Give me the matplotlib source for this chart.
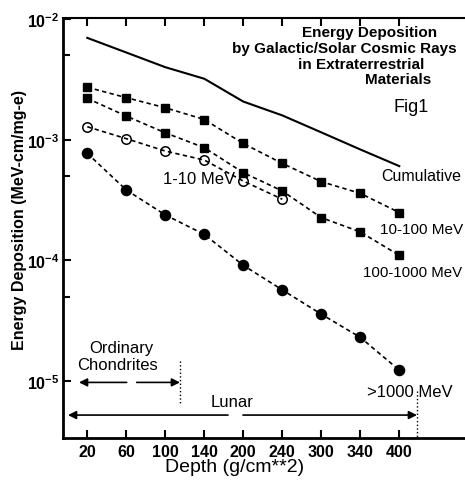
import numpy as np
import matplotlib
matplotlib.use('Agg')
import matplotlib.pyplot as plt
from matplotlib.ticker import FixedLocator, FixedFormatter, NullFormatter

plt.rcParams['font.family'] = ['Liberation Sans', 'DejaVu Sans']
plt.rcParams['mathtext.fontset'] = 'custom'
plt.rcParams['mathtext.rm'] = 'Liberation Sans'
plt.rcParams['mathtext.bf'] = 'Liberation Sans:bold'

# depth (g/cm**2), plotted as evenly spaced categories
depth_labels = ['20', '60', '100', '140', '200', '240', '300', '340', '400']

# energy deposition (MeV-cm/mg-e)
cumulative = [6.98e-3, 5.28e-3, 3.99e-3, 3.20e-3, 2.07e-3, 1.59e-3, 1.15e-3, 8.3e-4, 6.04e-4]
mev_10_100 = [2.72e-3, 2.23e-3, 1.84e-3, 1.47e-3, 9.3e-4, 6.36e-4, 4.49e-4, 3.59e-4, 2.49e-4]
mev_100_1000 = [2.20e-3, 1.57e-3, 1.14e-3, 8.59e-4, 5.33e-4, 3.76e-4, 2.26e-4, 1.72e-4, 1.10e-4]
mev_1_10 = [1.28e-3, 1.02e-3, 8.05e-4, 6.78e-4, 4.54e-4, 3.21e-4]
mev_gt_1000 = [7.71e-4, 3.83e-4, 2.38e-4, 1.64e-4, 9.1e-5, 5.69e-5, 3.58e-5, 2.30e-5, 1.23e-5]

W, H = 465, 481

def px(x, y):
    # pixel position -> figure fraction
    return x / W, 1 - y / H

fig = plt.figure(figsize=(W / 100, H / 100), dpi=100)
ax = fig.add_axes([63.3 / W, 1 - 439 / H, (W - 63.3) / W, (439 - 19) / H])

x = np.arange(len(depth_labels))
dash = (2.6, 2.0)

ax.plot(x, cumulative, color='k', lw=1.5)
ax.plot(x, mev_10_100, color='k', lw=1.2, dashes=dash, marker='s', ms=6.3, mfc='k', mec='k')
ax.plot(x, mev_100_1000, color='k', lw=1.2, dashes=dash, marker='s', ms=6.3, mfc='k', mec='k')
ax.plot(x[:len(mev_1_10)], mev_1_10, color='k', lw=1.2, dashes=dash, marker='o', ms=6.8,
        mfc='none', mec='k', mew=1.1)
ax.plot(x, mev_gt_1000, color='k', lw=1.2, dashes=dash, marker='o', ms=7.3, mfc='k', mec='k')

ax.set_yscale('log')
ax.set_ylim(3.37e-6, 1.02e-2)
ax.set_xlim(-0.615, 9.685)

ax.xaxis.set_major_locator(FixedLocator(x))
ax.xaxis.set_major_formatter(FixedFormatter(depth_labels))
ax.xaxis.set_minor_locator(FixedLocator([]))
ax.yaxis.set_major_locator(FixedLocator([1e-5, 1e-4, 1e-3, 1e-2]))
ax.yaxis.set_major_formatter(FixedFormatter([r'$\mathbf{10^{-5}}$', r'$\mathbf{10^{-4}}$',
                                             r'$\mathbf{10^{-3}}$', r'$\mathbf{10^{-2}}$']))
ax.yaxis.set_minor_locator(FixedLocator([5e-5, 5e-4, 5e-3]))
ax.yaxis.set_minor_formatter(NullFormatter())

ax.tick_params(axis='x', which='major', direction='in', top=True, bottom=True,
               length=6, width=1.5, pad=4, labelsize=11.5)
ax.tick_params(axis='y', which='major', direction='in', length=6, width=1.5, pad=3, labelsize=11.5)
ax.tick_params(axis='y', which='minor', direction='in', length=5, width=1.5)
for lab in ax.get_xticklabels():
    lab.set_fontweight('bold')

ax.spines['right'].set_visible(False)
ax.spines['left'].set_linewidth(2)
ax.spines['bottom'].set_linewidth(2)
ax.spines['top'].set_linewidth(1.5)

fig.text(*px(235, 468), 'Depth (g/cm**2)', fontsize=14, ha='center', va='center')
fig.text(*px(20, 220), 'Energy Deposition (MeV-cm/mg-e)', rotation=90, fontsize=11.5,
         fontweight='bold', ha='center', va='center')

# series labels
fig.text(*px(381, 177), 'Cumulative', fontsize=11.5, ha='left', va='center')
fig.text(*px(380, 230), '10-100 MeV', fontsize=11, ha='left', va='center')
fig.text(*px(363, 273), '100-1000 MeV', fontsize=10.8, ha='left', va='center')
fig.text(*px(163, 180), '1-10 MeV', fontsize=12, ha='left', va='center')
fig.text(*px(367, 393), '>1000 MeV', fontsize=12, ha='left', va='center')

# title block
fig.text(*px(302, 33), 'Energy Deposition', fontsize=11, fontweight='bold', ha='left', va='center')
fig.text(*px(232, 49), 'by Galactic/Solar Cosmic Rays', fontsize=11, fontweight='bold',
         ha='left', va='center')
fig.text(*px(298, 65), 'in Extraterrestrial', fontsize=11, fontweight='bold', ha='left', va='center')
fig.text(*px(365, 80), 'Materials', fontsize=11, fontweight='bold', ha='left', va='center')
fig.text(*px(393, 107), 'Fig1', fontsize=13, ha='left', va='center')

# depth range annotations
def yv(y):
    return 10 ** (-2 - (y - 19.5) / 120.8)

def ix(xp):
    return (xp - 87.3) / 39.0

arrow = dict(arrowstyle='-|>', color='k', lw=1.2, mutation_scale=12, shrinkA=0, shrinkB=0)
y_ch = yv(383.3)
ax.annotate('', xy=(ix(79), y_ch), xytext=(ix(126.7), y_ch), arrowprops=arrow)
ax.annotate('', xy=(ix(180), y_ch), xytext=(ix(136.7), y_ch), arrowprops=arrow)
ax.plot([ix(180.3)] * 2, [yv(361.7), yv(404)], color='k', lw=1.0, ls=':')
fig.text(*px(121, 349), 'Ordinary', fontsize=12, ha='center', va='center')
fig.text(*px(117, 366), 'Chondrites', fontsize=12, ha='center', va='center')

y_lu = yv(416)
ax.annotate('', xy=(ix(68), y_lu), xytext=(ix(228), y_lu), arrowprops=arrow)
ax.annotate('', xy=(ix(417), y_lu), xytext=(ix(243), y_lu), arrowprops=arrow)
ax.plot([ix(417.3)] * 2, [yv(391.7), yv(439)], color='k', lw=1.0, ls=':')
fig.text(*px(232, 403), 'Lunar', fontsize=12, ha='center', va='center')

fig.savefig('out.png', dpi=100)
